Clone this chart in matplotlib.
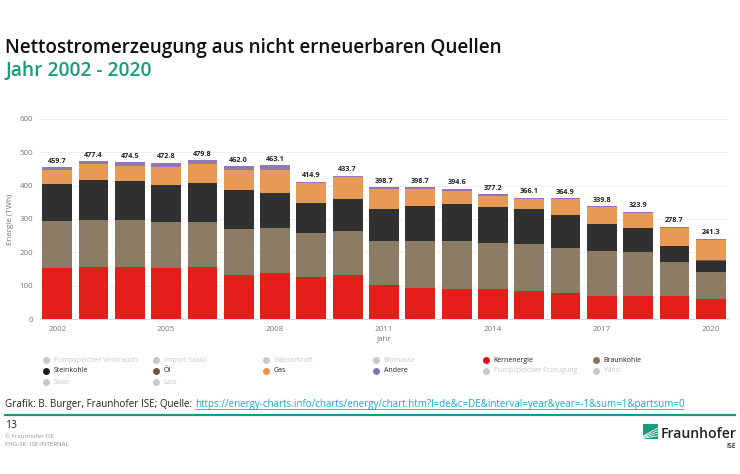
import numpy as np
import matplotlib
matplotlib.use("Agg")
import matplotlib.pyplot as plt

jahre = np.arange(2002, 2021)
kern = [154, 155, 156, 153, 156, 131, 139, 126, 131, 101, 92, 89, 90, 85, 78, 70, 70, 70, 59]
braun = [139, 141, 142, 138, 135, 138, 133, 131, 132, 134, 141, 146, 139, 139, 134, 134, 130, 100, 82]
stein = [112, 121, 116, 111, 116, 118, 105, 91, 97, 94, 106, 109, 107, 105, 100, 80, 72, 49, 34]
oel = [1, 1, 1, 1, 1, 1, 1, 1, 1, 1, 1, 1, 1, 1, 1, 1, 1, 1, 1]
gas = [41, 46, 45, 53, 56, 59, 69, 59, 66, 61, 51, 40, 33, 31, 47, 51, 45, 54, 61]
andere = [9, 10, 10, 13, 12, 11, 14, 4, 3, 4, 4, 6, 4, 3, 3, 3, 4, 3, 4]
summen = [459.7, 477.4, 474.5, 472.8, 479.8, 462.0, 463.1, 414.9, 433.7, 398.7, 398.7,
          394.6, 377.2, 366.1, 364.9, 339.8, 323.9, 278.7, 241.3]

serien = [kern, braun, stein, oel, gas, andere]
farben = ["#e41e18", "#8c7b65", "#303030", "#6e5a44", "#e89a55", "#9077b5"]

legende = ["Pumpspeicher Verbrauch", "Import Saldo", "Wasserkraft", "Biomasse", "Kernenergie", "Braunkohle",
           "Steinkohle", "Öl", "Gas", "Andere", "Pumpspeicher Erzeugung", "Wind",
           "Solar", "Last"]
legende_farben = ["#c8c8c8", "#c8c8c8", "#c8c8c8", "#c8c8c8", "#e30613", "#8c7558",
                  "#1c1c1c", "#6b5238", "#ee9349", "#8a6fb0", "#c8c8c8", "#c8c8c8",
                  "#c8c8c8", "#c8c8c8"]

plt.rcParams['font.family'] = ['Open Sans', 'DejaVu Sans']
fig = plt.figure(figsize=(7.4, 4.74), dpi=100)

# Diagramm
ax = fig.add_axes([40/740, 1-319/474, 688/740, 200/474])
x = np.arange(len(jahre))
unten = np.zeros(len(jahre))
for werte, farbe in zip(serien, farben):
    ax.bar(x, werte, bottom=unten, width=0.82, color=farbe, linewidth=0)
    unten = unten + np.array(werte)
for i, s in enumerate(summen):
    ax.text(i, unten[i] + 7, "%.1f" % s, ha="center", va="bottom", fontsize=5.2,
            fontweight="bold", color="#222222")
ax.set_xlim(-0.474, 18.474)
ax.set_ylim(0, 600)
ax.set_yticks(np.arange(0, 601, 100))
ax.set_xticks(x[::3])
ax.set_xticklabels(jahre[::3])
ax.tick_params(length=0, labelsize=5.8, labelcolor="#777777", pad=5)
ax.grid(axis="y", color="#efeff3", linewidth=0.7)
ax.set_axisbelow(True)
for s in ["top", "right", "left"]:
    ax.spines[s].set_visible(False)
ax.spines["bottom"].set_color("#d5d8e6")
ax.spines["bottom"].set_linewidth(0.7)
ax.set_ylabel("Energie (TWh)", fontsize=5.8, color="#777777", labelpad=4)
ax.set_xlabel("Jahr", fontsize=5.8, color="#777777", labelpad=2)

# Rest der Folie in Pixelkoordinaten
bg = fig.add_axes([0, 0, 1, 1], zorder=-1)
bg.set_xlim(0, 740)
bg.set_ylim(474, 0)
bg.axis("off")

bg.text(5, 48, "Nettostromerzeugung aus nicht erneuerbaren Quellen", fontsize=13.6,
        fontweight="semibold", color="#111111", va="center")
bg.text(5, 71, "Jahr 2002 - 2020", fontsize=13.8, fontweight="semibold", color="#179c7d", va="center")

for i, (name, farbe) in enumerate(zip(legende, legende_farben)):
    spalte, zeile = i % 6, i // 6
    px = 46 + spalte * 110
    py = 360 + zeile * 11
    bg.scatter([px], [py], s=25, color=farbe, linewidth=0)
    bg.text(px + 7.5, py, name, fontsize=5.05, va="center",
            color="#c8c8c8" if farbe == "#c8c8c8" else "#222222")

t = bg.text(5, 404, "Grafik: B. Burger, Fraunhofer ISE; Quelle: ", fontsize=7.1, va="center", color="#222222")
fig.canvas.draw()
ende = t.get_window_extent().x1
bg.text(ende, 404, "https://energy-charts.info/charts/energy/chart.htm?l=de&c=DE&interval=year&year=-1&sum=1&partsum=0",
        fontsize=7.04, va="center", color="#1aa7c9")
bg.plot([ende, 683], [409, 409], color="#1aa7c9", linewidth=0.6)
bg.plot([5, 735], [415, 415], color="#179c7d", linewidth=1.6)
bg.text(5, 425, "13", fontsize=7.5, va="center", color="#222222")
bg.text(5, 436, "© Fraunhofer ISE", fontsize=4.4, va="center", color="#999999")
bg.text(5, 445, "FHG-SK: ISE-INTERNAL", fontsize=4.4, va="center", color="#888888")

# Logo
bg.fill([643, 658, 658, 643], [424, 424, 439, 439], color="#179c7d", linewidth=0)
for k in range(4):
    bg.plot([643, 658], [436 + k * 0.8, 428 + k * 2.6], color="white", linewidth=0.6)
bg.text(736, 434, "Fraunhofer", fontsize=10.1, fontweight="semibold", ha="right", va="center", color="#222222")
bg.text(736, 446, "ISE", fontsize=4.8, fontweight="semibold", ha="right", va="center", color="#222222")

fig.savefig("out.png", dpi=100)
